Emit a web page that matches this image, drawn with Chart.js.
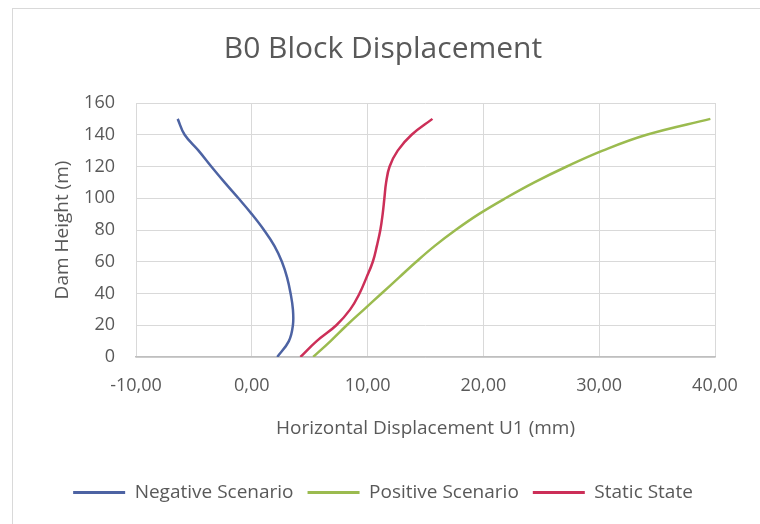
<!DOCTYPE html>
<html>
<head>
<meta charset="utf-8">
<script src="https://cdn.jsdelivr.net/npm/chart.js@4/dist/chart.umd.min.js"></script>
<style>
  html, body { margin: 0; padding: 0; background: #fff; }
  #wrap { position: relative; width: 760px; height: 524px; overflow: hidden; }
  #frame {
    position: absolute; left: 12px; top: 8px; width: 800px; height: 600px;
    border-left: 1px solid #d9d9d9; border-top: 1px solid #d9d9d9;
  }
  canvas { position: absolute; left: 0; top: 0; }
</style>
</head>
<body>
<div id="wrap">
  <div id="frame"></div>
  <canvas id="chart" width="760" height="524"></canvas>
</div>
<script>
// dam height (m) at each reading
const heights = [0, 10, 20, 30, 40, 50, 60, 70, 80, 90, 100, 110, 120, 130, 140, 150];

// horizontal displacement U1 (mm)
const negativeScenario = [2.2, 3.2, 3.55, 3.55, 3.35, 3.05, 2.6, 1.95, 1.05, 0.0, -1.15, -2.35, -3.5, -4.6, -5.8, -6.4];
const positiveScenario = [5.3, 6.8, 8.2, 9.7, 11.2, 12.7, 14.2, 15.8, 17.6, 19.6, 21.9, 24.4, 27.2, 30.3, 34.1, 39.6];
const staticState = [4.2, 5.6, 7.3, 8.5, 9.3, 9.9, 10.45, 10.8, 11.1, 11.3, 11.45, 11.6, 11.9, 12.6, 13.8, 15.6];

const xTickValues = [-10, 0, 10, 20, 30, 40];
const xTickLabels = ["-10,00", "0,00", "10,00", "20,00", "30,00", "40,00"];
const yTickValues = [0, 20, 40, 60, 80, 100, 120, 140, 160];

const FONT = "'Open Sans', sans-serif";
const TEXT = "#595959";
const GRID = "#d9d9d9";

const toPoints = (xs) => xs.map((x, i) => ({ x, y: heights[i] }));

function line(label, values, color) {
  return {
    label,
    data: toPoints(values),
    showLine: true,
    borderColor: color,
    backgroundColor: color,
    borderWidth: 2.5,
    pointRadius: 0,
    tension: 0.4,
  };
}

new Chart(document.getElementById("chart"), {
  type: "scatter",
  data: {
    datasets: [
      line("Negative Scenario", negativeScenario, "#4d63a3"),
      line("Positive Scenario", positiveScenario, "#9bbb4f"),
      line("Static State", staticState, "#cc2f58"),
    ],
  },
  options: {
    responsive: false,
    animation: false,
    layout: { padding: { left: 51, right: 45, top: 8, bottom: 12 } },
    plugins: {
      title: {
        display: true,
        text: "B0 Block Displacement",
        color: TEXT,
        font: { family: FONT, size: 30, weight: "normal" },
        padding: { top: 23, bottom: 36 },
      },
      legend: {
        position: "bottom",
        labels: {
          color: TEXT,
          font: { family: FONT, size: 19 },
          boxWidth: 52,
          boxHeight: 3,
          padding: 14,
          generateLabels(chart) {
            // flat 3px swatch, no stroke round it
            const items = Chart.defaults.plugins.legend.labels.generateLabels(chart);
            items.forEach((it) => { it.lineWidth = 0; });
            return items;
          },
        },
      },
      tooltip: { enabled: false },
    },
    scales: {
      x: {
        type: "linear",
        min: -10,
        max: 40,
        afterBuildTicks: (s) => { s.ticks = xTickValues.map((v) => ({ value: v })); },
        afterFit: (s) => { s.height = 112; },
        border: { color: "#bfbfbf", width: 1.5 },
        grid: { color: GRID, drawTicks: false },
        ticks: {
          color: TEXT,
          font: { family: FONT, size: 18 },
          padding: 18,
          maxRotation: 0,
          callback: (v) => xTickLabels[xTickValues.indexOf(v)],
        },
        title: {
          display: true,
          text: "Horizontal Displacement U1 (mm)",
          color: TEXT,
          font: { family: FONT, size: 19 },
          padding: { top: 3, bottom: 29 },
        },
      },
      y: {
        type: "linear",
        min: 0,
        max: 160,
        afterBuildTicks: (s) => { s.ticks = yTickValues.map((v) => ({ value: v })); },
        afterFit: (s) => { s.width = 85; },
        border: { display: false },
        grid: { color: GRID, drawTicks: false },
        ticks: {
          color: TEXT,
          font: { family: FONT, size: 18 },
          padding: 21,
        },
        title: {
          display: true,
          text: "Dam Height (m)",
          color: TEXT,
          font: { family: FONT, size: 19 },
          padding: { top: 0, bottom: 0 },
        },
      },
    },
  },
});
</script>
</body>
</html>
